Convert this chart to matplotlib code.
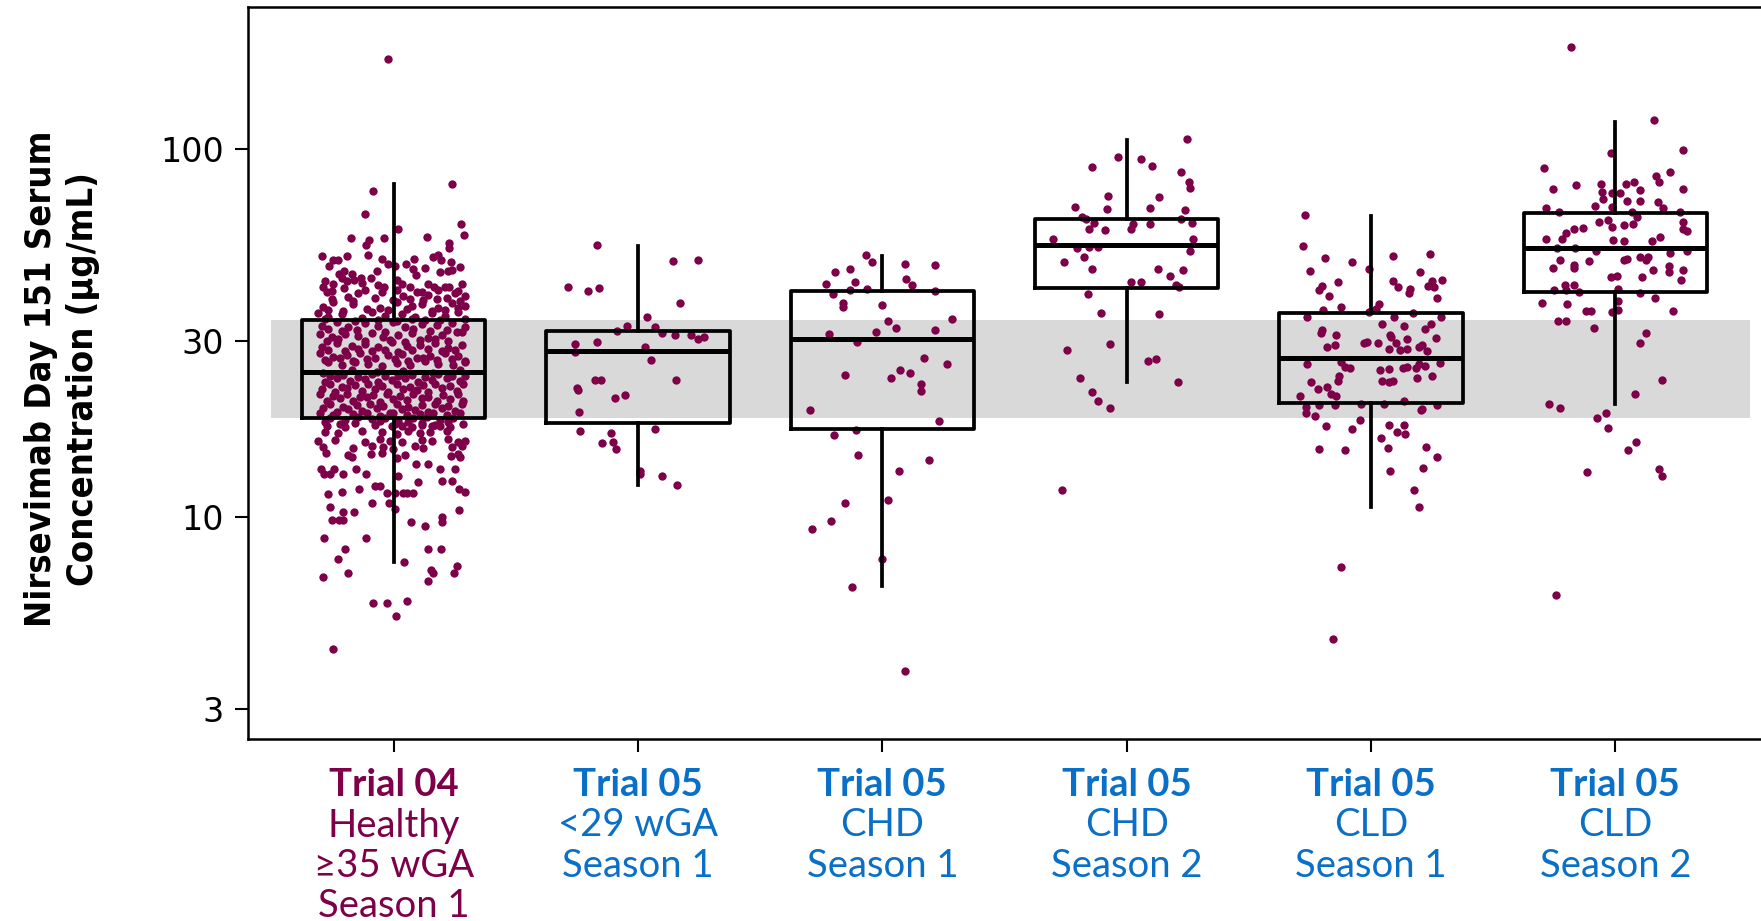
import matplotlib
matplotlib.use('Agg')
import matplotlib.pyplot as plt
import numpy as np
from matplotlib import transforms
from matplotlib.ticker import NullLocator

# Цвета
DOT = '#7E0049'
BLUE = '#0A6FC6'
BAND = '#D9D9D9'

# Подписи групп: первая строка жирная
label_top = ['Trial 04', 'Trial 05', 'Trial 05', 'Trial 05', 'Trial 05', 'Trial 05']
label_rest = [['Healthy', '\u226535 wGA', 'Season 1'],
              ['<29 wGA', 'Season 1'],
              ['CHD', 'Season 1'],
              ['CHD', 'Season 2'],
              ['CLD', 'Season 1'],
              ['CLD', 'Season 2']]
label_colors = [DOT, BLUE, BLUE, BLUE, BLUE, BLUE]

# Статистика боксов (мкг/мл)
q1 = [18.6, 18.0, 17.3, 41.8, 20.4, 40.9]
med = [24.8, 28.3, 30.4, 55.0, 27.1, 54.0]
q3 = [34.4, 32.1, 41.2, 64.6, 35.8, 67.1]
whislo = [7.54, 12.2, 6.46, 23.2, 10.6, 20.3]
whishi = [80.2, 54.4, 51.3, 105.9, 65.9, 119.0]

# Trial 04, Healthy >=35 wGA, Season 1
t04_jit = [
    -0.021, 0.239, -0.086, -0.116, 0.016, 0.275, 0.289, -0.174, -0.100, -0.112, -0.038, 0.138, 0.228, 0.228,
    -0.295, -0.191, -0.105, -0.247, -0.226, -0.047, -0.022, 0.083, 0.160, 0.180, 0.192, -0.265, 0.050, 0.007, 0.233, 0.273,
    -0.067, 0.078, 0.127, 0.190, 0.224, 0.239, -0.224, -0.202, -0.172, -0.279, -0.247, -0.213, -0.192, -0.161, -0.134,
    -0.128, -0.093, -0.063, 0.014, 0.033, 0.069, 0.091, 0.139, 0.166, 0.210, 0.228, 0.278, -0.288, -0.038, -0.203,
    -0.254, -0.117, -0.049, 0.012, 0.115, 0.183, 0.265,
    -0.274, -0.186, -0.145, 0.040, 0.094, 0.142, 0.217, 0.251, 0.292,
    -0.254, -0.165, -0.076, -0.001, 0.067, 0.121, 0.176, 0.271,
    -0.288, -0.247, -0.165, -0.056, 0.012, 0.074, 0.115, 0.183, 0.237, 0.292,
    -0.267, -0.206, -0.111, -0.022, 0.053, 0.156, 0.210, 0.265,
    -0.308, -0.267, -0.213, -0.131, -0.090, -0.035, 0.033, 0.087, 0.156, 0.210, 0.265,
    -0.281, -0.158, -0.063, 0.012, 0.074, 0.128, 0.190, 0.292,
    -0.295, -0.233, -0.186, -0.117, -0.063, -0.001, 0.046, 0.115, 0.176, 0.237, 0.292,
    -0.267, -0.213, -0.151, -0.035, 0.080, 0.149, 0.217, 0.278,
    -0.301, -0.254, -0.199, -0.145, -0.090, -0.042, 0.019, 0.074, 0.142, 0.196, 0.258,
    -0.274, -0.226, -0.117, -0.015, 0.046, 0.108, 0.169, 0.224,
    -0.295, -0.233, -0.172, -0.117, -0.063, -0.008, 0.053, 0.108, 0.169, 0.224, 0.278,
    -0.267, -0.199, -0.145, -0.090, -0.035, 0.019, 0.074, 0.142, 0.196, 0.251,
    -0.301, -0.247, -0.192, -0.138, -0.076, -0.022, 0.033, 0.094, 0.149, 0.210, 0.265,
    -0.281, -0.220, -0.165, -0.111, 0.005, 0.060, 0.121, 0.176, 0.237, 0.292,
    -0.267, -0.213, -0.158, -0.104, -0.049, 0.012, 0.067, 0.128, 0.183, 0.244, 0.292,
    -0.288, -0.172, -0.070, 0.040, 0.162, 0.271,
    -0.261, -0.206, -0.145, -0.090, -0.035, 0.019, 0.074, 0.128, 0.183, 0.237, 0.292,
    -0.281, -0.233, -0.179, -0.117, -0.063, -0.008, 0.046, 0.101, 0.156, 0.217, 0.271,
    -0.261, -0.213, -0.158, -0.104, -0.049, 0.012, 0.067, 0.121, 0.169, 0.231, 0.285,
    -0.295, -0.240, -0.192, -0.131, -0.076, -0.022, 0.040, 0.094, 0.142, 0.196, 0.258,
    -0.301, -0.247, -0.192, -0.138, -0.083, -0.029, 0.026, 0.080, 0.142, 0.203, 0.265,
    -0.274, -0.220, -0.165, -0.111, -0.056, -0.001, 0.053, 0.115, 0.176, 0.231, 0.285,
    -0.261, -0.206, -0.151, -0.097, -0.042, 0.012, 0.060, 0.115, 0.169, 0.224, 0.278,
    -0.288, -0.233, -0.186, -0.131, -0.070, -0.015, 0.033, 0.087, 0.142, 0.196, 0.251,
    -0.301, -0.247, -0.165, -0.111, -0.056, -0.001, 0.053, 0.108, 0.162, 0.217, 0.271,
    -0.261, -0.199, -0.145, -0.090, -0.035, 0.019, 0.080, 0.135, 0.190, 0.244,
    -0.281, -0.220, -0.158, -0.056, 0.005, 0.060, 0.115, 0.169, 0.224, 0.285,
    -0.274, -0.199, -0.076, -0.008, 0.033, 0.074, 0.115, 0.156, 0.190, 0.231,
    -0.281, -0.226, -0.131, -0.049, 0.012, 0.060, 0.108, 0.149, 0.217,
    -0.308, -0.240, -0.117, -0.056, -0.015, 0.033, 0.115, 0.156, 0.224, 0.265, 0.292,
    -0.288, -0.165, -0.090, -0.042, -0.001, 0.087, 0.121, 0.237, 0.278,
    -0.277, -0.186, -0.093, -0.049, 0.046, 0.265, -0.172, 0.012, 0.233, 0.271,
    0.090, 0.142, -0.297, -0.244, -0.154, 0.190, 0.251, -0.284, -0.259, -0.206, -0.115, 0.019,
    0.196, 0.237, 0.098, -0.076, -0.056, -0.142, 0.267, -0.213, 0.292, -0.027, 0.005, 0.040, 0.053, 0.078, -0.270,
    -0.087, -0.019, -0.261, 0.005, 0.269, -0.206, -0.161, 0.198, -0.254, -0.224, -0.206, 0.071, 0.196, 0.130,
    -0.286, -0.113, -0.199, 0.142, 0.194, -0.226, 0.044, 0.151, 0.162, 0.261, 0.248, 0.139, -0.291, -0.187,
    -0.083, -0.029, 0.056, 0.008, -0.248,
]
t04_conc = [
    176, 80.2, 77.1, 66.7, 60.6, 62.6, 58.3, 57.5, 56.8, 54.8, 57.5, 57.6, 55.5, 53.7,
    51.2, 51.2, 51.5, 50.1, 50.1, 50.3, 48.8, 50.2, 50.9, 51.4, 49.8, 48.1, 48.8, 48.2, 49.3, 47.9,
    46.5, 47.3, 47.4, 46.4, 46.7, 47.0, 45.8, 46.5, 45.8, 43.7, 43.1, 44.5, 43.7, 44.0, 44.5,
    43.3, 44.6, 42.6, 44.1, 42.9, 42.3, 45.6, 42.9, 42.3, 42.3, 42.3, 42.9, 42.2, 42.1, 41.9,
    41.2, 41.5, 40.9, 41.3, 41.0, 41.4, 41.1,
    40.8, 39.6, 40.5, 39.9, 41.0, 40.1, 39.4, 40.6, 39.8,
    39.1, 38.7, 39.3, 38.9, 39.2, 38.8, 39.0, 38.6,
    37.2, 38.3, 37.9, 36.9, 38.4, 37.5, 38.0, 37.0, 38.1, 37.4,
    36.6, 36.3, 36.8, 36.4, 36.7, 36.2, 36.5, 36.9,
    35.9, 35.0, 35.7, 34.8, 36.1, 35.2, 35.6, 34.9, 35.8, 35.1, 36.0,
    34.5, 34.1, 34.4, 34.0, 34.6, 34.2, 34.3, 34.5,
    33.0, 33.8, 32.9, 33.6, 33.1, 33.9, 32.8, 33.5, 33.2, 33.7, 32.9,
    32.4, 32.0, 32.3, 31.9, 32.5, 32.1, 32.2, 31.9,
    31.5, 30.8, 31.4, 31.0, 31.7, 30.9, 31.3, 31.6, 30.7, 31.2, 31.8,
    30.0, 30.4, 30.1, 30.3, 29.9, 30.2, 30.5, 30.0,
    29.0, 29.7, 29.2, 29.5, 28.9, 29.8, 29.1, 29.4, 29.6, 28.8, 29.3,
    28.5, 28.2, 28.6, 28.3, 28.5, 28.1, 28.4, 28.6, 28.2, 28.5,
    27.8, 27.2, 27.6, 27.9, 27.1, 27.5, 27.7, 27.0, 27.4, 27.8, 27.3,
    26.7, 27.0, 26.6, 26.9, 26.8, 26.5, 27.0, 26.7, 26.9, 26.6,
    26.3, 25.8, 26.4, 26.0, 25.7, 26.2, 25.9, 26.5, 26.1, 25.8, 26.3,
    24.6, 25.0, 24.7, 24.9, 24.6, 25.1,
    24.1, 24.3, 24.0, 24.4, 24.2, 24.1, 24.3, 24.0, 24.4, 24.2, 24.1,
    23.3, 23.8, 23.4, 23.7, 23.2, 23.6, 23.9, 23.3, 23.5, 23.8, 23.4,
    22.9, 22.6, 22.8, 23.0, 22.7, 22.9, 22.6, 22.8, 23.0, 22.7, 22.9,
    22.3, 21.9, 22.4, 22.0, 22.2, 21.8, 22.3, 22.1, 21.9, 22.4, 22.0,
    21.5, 21.3, 21.6, 21.2, 21.4, 21.5, 21.3, 21.6, 21.2, 21.4, 21.5,
    20.6, 21.0, 20.7, 21.1, 20.5, 20.9, 20.8, 21.0, 20.6, 20.9, 20.7,
    20.2, 19.9, 20.1, 20.3, 20.0, 20.2, 19.9, 20.1, 20.3, 20.0, 20.2,
    19.7, 19.3, 19.6, 19.4, 19.8, 19.2, 19.6, 19.5, 19.3, 19.7, 19.4,
    19.1, 18.9, 19.0, 19.2, 18.8, 19.1, 18.9, 19.0, 19.2, 18.9, 19.1,
    18.6, 18.3, 18.7, 18.4, 18.6, 18.2, 18.5, 18.7, 18.3, 18.6,
    18.1, 17.9, 18.0, 18.2, 17.9, 18.1, 18.0, 17.8, 18.1, 17.9,
    17.7, 17.5, 17.8, 17.6, 17.7, 17.5, 17.8, 17.6, 17.7, 17.5,
    17.0, 16.9, 17.1, 17.0, 16.8, 17.1, 16.9, 17.0, 17.1,
    16.1, 16.2, 16.0, 16.3, 16.1, 16.0, 16.2, 16.1, 16.3, 16.0, 16.1,
    15.5, 15.4, 15.6, 15.5, 15.3, 15.6, 15.4, 15.5, 15.6,
    14.9, 14.7, 14.8, 14.9, 14.7, 14.8, 14.5, 14.4, 14.6, 14.5,
    13.9, 13.9, 13.5, 13.5, 13.5, 13.5, 13.5, 13.1, 13.1, 13.1, 13.1, 12.9,
    12.5, 12.5, 12.4, 12.1, 12.1, 11.9, 11.9, 11.7, 11.7, 11.6, 11.6, 11.6, 11.6, 11.6, 11.5,
    10.9, 10.9, 10.6, 10.5, 10.4, 10.3, 10.3, 10.0, 9.8, 9.8, 9.8, 9.65, 9.65, 9.4,
    8.73, 8.73, 8.16, 8.16, 8.16, 7.66, 7.54, 7.17, 7.02, 7.35, 7.02, 6.66, 6.86, 7.02,
    5.81, 5.82, 5.90, 5.37, 4.35,
]

# Trial 05, <29 wGA, Season 1
t05_preterm_jit = [-0.169, 0.143, 0.246, -0.288, -0.204, -0.159, 0.171, 0.036, -0.044, 0.071,
                   -0.086, 0.098, 0.153, 0.216, 0.270, 0.247, -0.257, -0.169, 0.027, -0.257,
                   0.053, -0.176, -0.153, 0.157, -0.249, -0.246, -0.054, -0.095, -0.240, -0.239,
                   0.071, -0.111, -0.146, -0.102, -0.090, 0.007, 0.007, 0.098, 0.161]
t05_preterm_conc = [54.8, 49.5, 49.9, 42.3, 41.1, 41.8, 38.1, 35.0, 33.1, 32.9,
                    32.1, 31.6, 31.2, 31.3, 30.8, 30.4, 29.5, 29.8, 29.0, 28.1,
                    26.7, 23.6, 23.6, 23.6, 22.4, 22.1, 21.4, 21.0, 19.3, 17.1,
                    17.3, 16.9, 15.9, 16.0, 15.3, 13.1, 13.3, 12.9, 12.2]

# Trial 05, CHD, Season 1
t05_chd1_jit = [-0.068, -0.042, -0.192, -0.133, 0.094, 0.216, -0.232, -0.113, 0.097, 0.123,
                -0.131, -0.200, -0.061, 0.216, -0.162, -0.162, 0.000, 0.285, 0.022, 0.055,
                -0.219, -0.025, 0.214, -0.104, 0.169, 0.266, -0.151, 0.071, 0.112, 0.036,
                0.160, 0.157, -0.295, 0.233, -0.197, -0.109, -0.098, 0.192, 0.068, 0.022,
                -0.151, -0.210, -0.288, 0.000, -0.124, 0.094]
t05_chd1_conc = [51.5, 49.3, 46.4, 47.2, 48.8, 48.4, 43.1, 43.4, 44.3, 42.7,
                 41.5, 40.3, 41.6, 41.2, 38.2, 37.1, 37.6, 34.6, 34.1, 32.7,
                 31.5, 31.8, 32.2, 29.9, 27.1, 26.0, 24.3, 25.0, 24.6, 23.9,
                 23.0, 22.0, 19.5, 18.2, 16.7, 17.2, 14.7, 14.3, 13.3, 11.1,
                 10.9, 9.7, 9.27, 7.67, 6.45, 3.8]

# Trial 05, CHD, Season 2
t05_chd2_jit = [0.247, -0.036, 0.060, 0.104, -0.143, 0.224, 0.254, 0.259, -0.075, 0.132,
                -0.210, -0.082, 0.095, 0.237, -0.183, -0.166, -0.135, 0.222, 0.269, 0.094,
                0.027, 0.018, -0.154, -0.090, -0.300, 0.272, -0.205, -0.154, -0.116, 0.261,
                -0.175, -0.258, -0.142, 0.129, 0.229, 0.179, 0.016, 0.057, 0.200, 0.214,
                -0.157, -0.105, 0.131, -0.244, -0.067, 0.086, 0.121, -0.193, 0.209, -0.142,
                -0.119, -0.067, -0.266]
t05_chd2_conc = [106.6, 95.4, 94.3, 90.3, 89.4, 86.8, 81.3, 78.3, 74.6, 74.0,
                 69.8, 68.7, 69.2, 68.4, 65.4, 64.5, 63.0, 64.5, 63.0, 62.6,
                 62.6, 60.8, 60.7, 60.3, 57.0, 57.0, 53.9, 54.2, 54.2, 52.8,
                 50.9, 49.3, 47.3, 47.2, 47.0, 45.2, 43.6, 43.6, 42.7, 42.1,
                 40.4, 35.8, 35.5, 28.5, 29.5, 26.5, 26.9, 23.9, 23.3, 21.9,
                 20.6, 19.7, 11.8]

# Trial 05, CLD, Season 1
t05_cld1_jit = [-0.271, -0.280, -0.187, -0.250, -0.078, -0.007, 0.090, 0.243, 0.202, -0.137,
                -0.201, -0.212, -0.171, 0.088, 0.109, 0.161, 0.157, 0.234, 0.250, 0.257,
                0.291, 0.268, -0.123, -0.196, -0.264, -0.007, 0.020, 0.034, 0.173, 0.287,
                0.095, 0.043, 0.135, 0.244, 0.222, -0.199, -0.203, -0.144, 0.079, 0.082,
                0.265, -0.146, -0.181, -0.028, -0.017, 0.027, 0.102, 0.075, 0.119, 0.146,
                0.146, 0.195, 0.209, 0.228, -0.264, -0.123, -0.106, -0.085, 0.038, 0.075,
                0.130, 0.146, 0.185, 0.195, 0.222, 0.282, 0.188, 0.250, -0.133, -0.134,
                -0.245, -0.219, -0.182, 0.045, 0.072, 0.091, -0.290, -0.162, -0.144, -0.267,
                -0.267, -0.231, -0.211, -0.147, -0.043, 0.052, 0.135, 0.205, 0.209, 0.270,
                -0.185, -0.078, -0.045, 0.072, 0.135, 0.105, 0.139, 0.041, -0.211, -0.106,
                0.071, 0.227, 0.272, 0.212, 0.076, 0.177, 0.195, -0.123, -0.157]
t05_cld1_conc = [66.4, 54.4, 50.6, 46.5, 49.4, 47.1, 51.3, 52.0, 46.4, 43.5,
                 42.4, 41.3, 39.9, 43.9, 42.3, 41.6, 40.5, 42.4, 43.8, 42.2,
                 44.1, 39.4, 37.2, 36.6, 34.9, 36.1, 36.7, 37.9, 35.9, 34.9,
                 34.9, 33.4, 33.1, 33.4, 32.5, 32.3, 31.6, 31.2, 31.2, 30.8,
                 30.6, 29.4, 29.0, 29.6, 29.9, 29.6, 29.7, 28.6, 28.4, 28.6,
                 30.4, 29.0, 29.4, 28.3, 26.0, 26.4, 25.5, 25.4, 25.0, 25.2,
                 25.4, 25.6, 25.4, 26.0, 25.7, 26.2, 23.8, 24.1, 24.1, 23.4,
                 23.3, 22.3, 22.5, 23.4, 23.2, 23.4, 21.3, 21.6, 21.3, 19.9,
                 19.2, 18.8, 20.1, 20.1, 20.2, 20.3, 20.6, 19.5, 19.6, 20.1,
                 17.7, 17.3, 18.3, 17.8, 17.8, 17.0, 16.8, 16.4, 15.3, 15.2,
                 15.4, 15.5, 14.5, 13.6, 13.3, 11.8, 10.6, 7.3, 4.63]

# Trial 05, CLD, Season 2
t05_cld2_jit = [-0.183, 0.159, -0.019, 0.276, -0.291, 0.224, -0.255, -0.160, -0.059, 0.044,
                0.077, 0.167, 0.178, 0.275, 0.099, -0.055, -0.015, 0.020, -0.052, 0.049,
                0.099, 0.176, -0.282, -0.231, -0.083, -0.015, 0.194, 0.265, 0.070, 0.088,
                -0.068, -0.030, 0.275, -0.014, 0.037, 0.072, -0.169, -0.131, -0.201, 0.276,
                0.295, -0.217, -0.282, -0.009, 0.036, 0.148, 0.183, -0.164, -0.079, 0.223,
                0.293, -0.238, -0.227, -0.108, -0.169, -0.169, 0.036, 0.047, 0.099, 0.125,
                0.134, 0.219, 0.276, -0.255, 0.008, -0.018, 0.108, 0.153, 0.220, 0.268,
                -0.206, -0.171, -0.251, -0.203, -0.149, 0.011, 0.099, -0.299, -0.197, 0.011,
                0.011, -0.015, 0.163, -0.122, -0.101, 0.235, -0.234, -0.201, -0.089, 0.124,
                0.101, 0.189, 0.081, -0.273, -0.228, -0.075, -0.037, -0.030, 0.084, 0.051,
                -0.115, 0.180, 0.189, -0.241]
t05_cld2_conc = [190, 120, 97.6, 99.7, 88.9, 87.0, 78.0, 79.8, 80.6, 80.6,
                 81.5, 84.5, 81.5, 77.8, 77.6, 76.5, 76.2, 75.8, 73.4, 72.1,
                 72.4, 71.9, 69.4, 67.5, 70.0, 69.7, 69.3, 67.5, 67.5, 65.4,
                 63.5, 64.1, 63.4, 61.4, 62.2, 62.5, 60.8, 61.1, 59.2, 60.5,
                 60.1, 57.1, 57.0, 56.7, 56.2, 56.4, 57.6, 53.7, 52.8, 52.1,
                 52.8, 53.7, 50.1, 49.6, 48.5, 47.5, 49.9, 50.4, 51.0, 50.1,
                 51.0, 48.2, 46.9, 47.5, 45.2, 45.0, 44.8, 46.9, 46.3, 44.0,
                 42.7, 42.7, 41.3, 41.3, 41.0, 41.7, 40.5, 38.1, 38.0, 38.6,
                 36.6, 36.0, 39.3, 36.2, 36.2, 36.2, 34.0, 34.0, 32.7, 31.6,
                 29.6, 23.5, 21.6, 20.3, 19.8, 18.6, 19.1, 17.4, 16.0, 15.2,
                 13.2, 13.5, 12.9, 6.1]

jitters = [t04_jit, t05_preterm_jit, t05_chd1_jit, t05_chd2_jit, t05_cld1_jit, t05_cld2_jit]
concs = [t04_conc, t05_preterm_conc, t05_chd1_conc, t05_chd2_conc, t05_cld1_conc, t05_cld2_conc]

y_ticks = [3, 10, 30, 100]

W, H = 1761, 921
fig = plt.figure(figsize=(W / 100, H / 100), dpi=100)
ax = fig.add_axes([248 / W, (H - 739) / H, (W - 248) / W, (739 - 7) / H])

# Референсная полоса: IQR Trial 04
ax.fill_between([-0.5, 5.55], q1[0], q3[0], color=BAND, lw=0, zorder=0)

for i, (jit, conc) in enumerate(zip(jitters, concs)):
    ax.scatter(i + np.asarray(jit), conc, s=36, color=DOT, lw=0, zorder=2)

stats = []
for i in range(6):
    stats.append(dict(q1=q1[i], med=med[i], q3=q3[i], whislo=whislo[i], whishi=whishi[i]))
ax.bxp(stats, positions=range(6), widths=0.75, showcaps=False, showfliers=False,
       boxprops=dict(color='black', linewidth=2.7),
       whiskerprops=dict(color='black', linewidth=2.7),
       medianprops=dict(color='black', linewidth=3.6, solid_capstyle='butt'),
       manage_ticks=False, zorder=3)

ax.set_yscale('log')
ax.set_ylim(2.48, 244)
ax.set_xlim(-0.596, 5.596)
ax.set_yticks(y_ticks)
ax.set_yticklabels([str(t) for t in y_ticks])
ax.yaxis.set_minor_locator(NullLocator())
ax.set_xticks(range(6))
ax.set_xticklabels([''] * 6)

for side in ['left', 'top', 'bottom']:
    ax.spines[side].set_linewidth(1.8)
ax.spines['right'].set_visible(False)
ax.tick_params(axis='both', length=9.5, width=1.5, direction='out')
ax.tick_params(axis='y', labelsize=24, pad=8)
for lab in ax.get_yticklabels():
    lab.set_fontfamily('DejaVu Sans')

# Подписи под осью X
trans = transforms.blended_transform_factory(ax.transData, fig.transFigure)
line_y = [785, 825.5, 866, 906]
for i in range(6):
    ax.text(i, 1 - line_y[0] / H, label_top[i], transform=trans, ha='center', va='center',
            fontsize=27.5, fontweight='bold', color=label_colors[i], family=['Lato', 'DejaVu Sans'])
    for k, txt in enumerate(label_rest[i]):
        ax.text(i, 1 - line_y[k + 1] / H, txt, transform=trans, ha='center', va='center',
                fontsize=27.5, color=label_colors[i], family=['Lato', 'DejaVu Sans'])

fig.text(62 / W, 1 - 379 / H, 'Nirsevimab Day 151 Serum\nConcentration (\u00b5g/mL)',
         rotation=90, ha='center', va='center', multialignment='center',
         fontsize=26, fontweight='bold', fontstretch='condensed', linespacing=1.3,
         family='DejaVu Sans')

fig.savefig('out.png', dpi=100)
